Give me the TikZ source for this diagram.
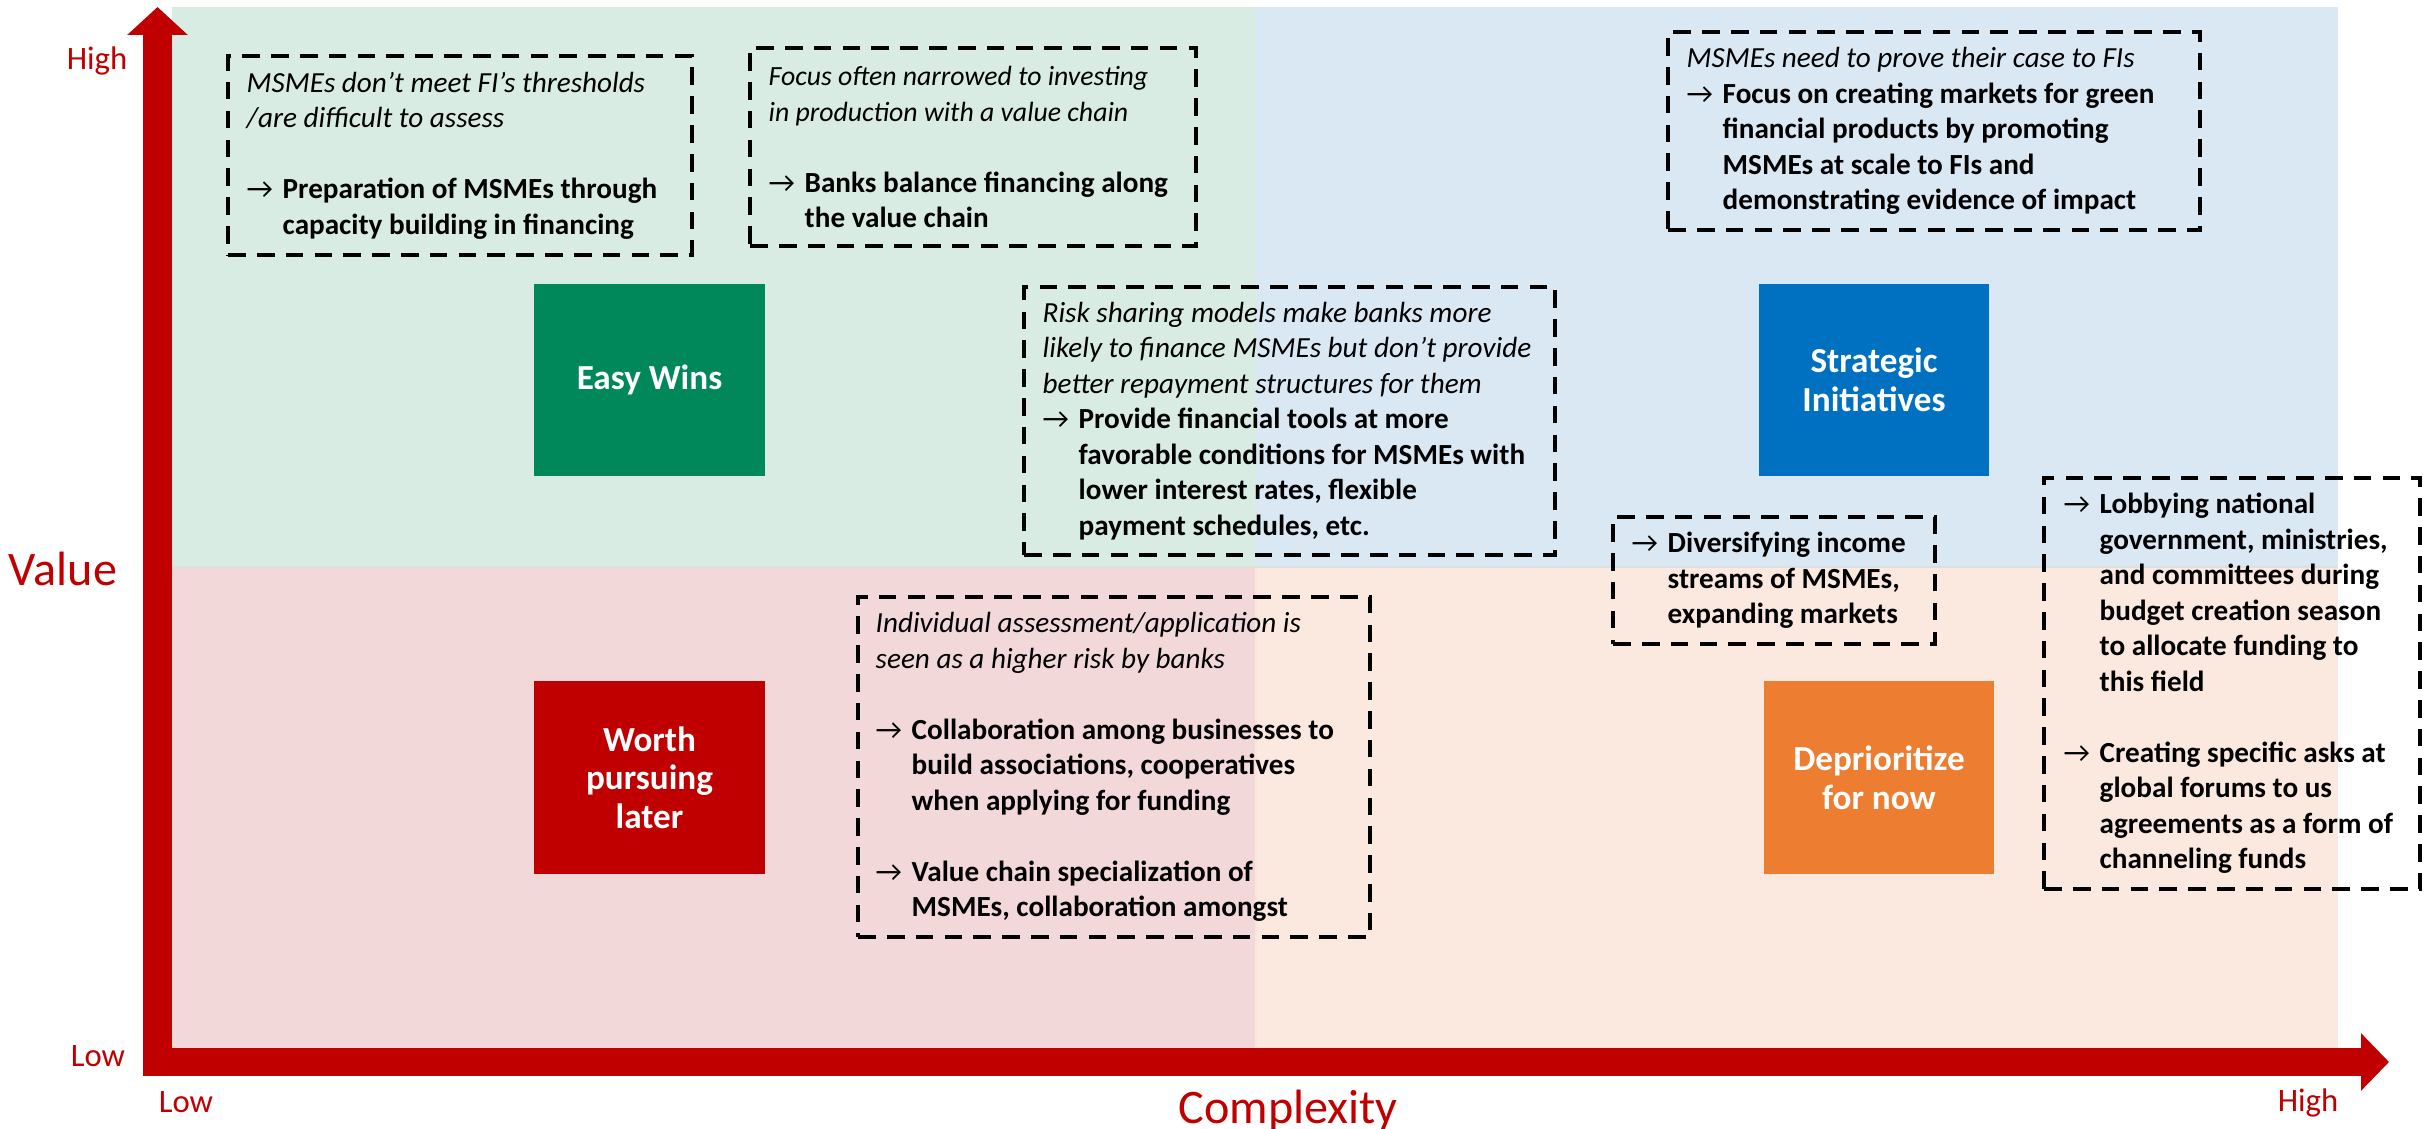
\documentclass[tikz,border=0pt]{standalone}
\usepackage{fontspec}
\setmainfont{Carlito}
\usepackage{xcolor}
\usepackage{tikz}
\usetikzlibrary{arrows.meta,positioning}
\definecolor{axisred}{RGB}{192,0,0}
\definecolor{easygr}{RGB}{0,135,90}
\definecolor{stratbl}{RGB}{0,112,192}
\definecolor{laterrd}{RGB}{192,0,0}
\definecolor{deprior}{RGB}{237,125,49}
\definecolor{quadtl}{RGB}{216,236,228}
\definecolor{quadtr}{RGB}{218,232,244}
\definecolor{quadbl}{RGB}{243,216,217}
\definecolor{quadbr}{RGB}{251,233,224}

% arrow bullet with hanging indent
\newcommand{\ptitem}[1]{\makebox[0.36cm][l]{→}\textbf{#1}}
\newcommand{\ptcont}[1]{\hspace*{0.36cm}\textbf{#1}}

\begin{document}
\begin{tikzpicture}[
    notebox/.style={draw=black, line width=1.2pt, dash pattern=on 5pt off 3.2pt,
      anchor=north west, inner sep=0pt},
    notetext/.style={align=left, inner sep=0pt,
      font=\fontsize{8.3}{10.1}\selectfont},
    quad/.style={minimum width=2.31cm, minimum height=1.92cm, inner sep=0pt,
      text=white, align=center, font=\fontsize{10}{11}\selectfont\bfseries},
    axislab/.style={text=axisred, font=\fontsize{9.3}{11}\selectfont}]

    \useasboundingbox (0,0) rectangle (24.33,11.28);

    %% quadrant backgrounds
    \fill[quadtl] (1.72,5.61) rectangle (12.56,11.21);
    \fill[quadtr] (12.56,5.61) rectangle (23.38,11.21);
    \fill[quadbl] (1.72,0.80) rectangle (12.56,5.61);
    \fill[quadbr] (12.56,0.80) rectangle (23.38,5.61);
    \draw[gray!25, thin] (1.72,5.61) -- (23.38,5.61);
    \draw[deprior!20, thin] (12.56,0.80) -- (12.56,5.61);

    %% axes
    \draw[axisred, line width=0.29cm, -{Triangle[length=0.28cm, width=0.59cm]}]
      (1.575,0.52) -- (1.575,11.21);
    \draw[axisred, line width=0.28cm, -{Triangle[length=0.28cm, width=0.56cm]}]
      (1.43,0.66) -- (23.89,0.66);

    \node[axislab] (yHigh) at (0.97,10.67) {High};
    \node[axislab] (yLow) at (0.98,0.72) {Low};
    \node[axislab, font=\fontsize{13.7}{16}\selectfont] (yLabel) at (0.63,5.59) {Value};
    \node[axislab] (xLow) at (1.86,0.26) {Low};
    \node[axislab, font=\fontsize{13.7}{16}\selectfont, anchor=base]
      (xLabel) at (12.88,0.05) {Complexity};
    \node[axislab] (xHigh) at (23.08,0.25) {High};

    %% quadrant tags
    \node[quad, fill=easygr] (qEasy) at (6.495,7.48) {Easy Wins};
    \node[quad, fill=stratbl, minimum width=2.30cm] (qStrat) at (18.74,7.48)
      {Strategic\\Initiatives};
    \node[quad, fill=laterrd, minimum height=1.93cm] (qLater) at (6.495,3.505)
      {Worth\\pursuing\\later};
    \node[quad, fill=deprior, minimum width=2.30cm, minimum height=1.93cm]
      (qDepr) at (18.79,3.505) {Deprioritize\\for now};

    %% notes, high value
    \node[notebox, minimum width=4.64cm, minimum height=1.99cm] (nThresh) at (2.26,10.74) {};
    \node[notetext, right=0.2cm of nThresh.west] (tThresh)
      {\textit{MSMEs don’t meet FI’s thresholds}\\
       \textit{/are difficult to assess}\\[10.1pt]
       \ptitem{Preparation of MSMEs through}\\
       \ptcont{capacity building in financing}};

    \node[notebox, minimum width=4.46cm, minimum height=1.98cm] (nFocus) at (7.48,10.82) {};
    \node[notetext, right=0.2cm of nFocus.west] (tFocus)
      {{\fontsize{7.9}{10.1}\selectfont\itshape Focus often narrowed to investing}\\
       {\fontsize{7.9}{10.1}\selectfont\itshape in production with a value chain}\\[10.1pt]
       \ptitem{Banks balance financing along}\\
       \ptcont{the value chain}};

    \node[notebox, minimum width=5.31cm, minimum height=2.68cm] (nRisk) at (10.22,8.43) {};
    \node[notetext, right=0.2cm of nRisk.west] (tRisk)
      {\textit{Risk sharing models make banks more}\\
       \textit{likely to finance MSMEs but don’t provide}\\
       \textit{better repayment structures for them}\\
       \ptitem{Provide financial tools at more}\\
       \ptcont{favorable conditions for MSMEs with}\\
       \ptcont{lower interest rates, flexible}\\
       \ptcont{payment schedules, etc.}};

    \node[notebox, minimum width=5.32cm, minimum height=1.98cm] (nProve) at (16.66,10.98) {};
    \node[notetext, right=0.2cm of nProve.west] (tProve)
      {\textit{MSMEs need to prove their case to FIs}\\
       \ptitem{Focus on creating markets for green}\\
       \ptcont{financial products by promoting}\\
       \ptcont{MSMEs at scale to FIs and}\\
       \ptcont{demonstrating evidence of impact}};

    \node[notebox, minimum width=3.22cm, minimum height=1.27cm] (nIncome) at (16.11,6.13) {};
    \node[notetext, right=0.2cm of nIncome.west] (tIncome)
      {\ptitem{Diversifying income}\\
       \ptcont{streams of MSMEs,}\\
       \ptcont{expanding markets}};

    \node[notebox, minimum width=3.76cm, minimum height=4.11cm] (nLobby) at (20.42,6.52) {};
    \node[notetext, right=0.21cm of nLobby.west] (tLobby)
      {\ptitem{Lobbying national}\\
       \ptcont{government, ministries,}\\
       \ptcont{and committees during}\\
       \ptcont{budget creation season}\\
       \ptcont{to allocate funding to}\\
       \ptcont{this field}\\[10.1pt]
       \ptitem{Creating specific asks at}\\
       \ptcont{global forums to us}\\
       \ptcont{agreements as a form of}\\
       \ptcont{channeling funds}};

    %% notes, low value
    \node[notebox, minimum width=5.12cm, minimum height=3.40cm] (nAssess) at (8.56,5.33) {};
    \node[notetext, right=0.19cm of nAssess.west] (tAssess)
      {\textit{Individual assessment/application is}\\
       \textit{seen as a higher risk by banks}\\[10.1pt]
       \ptitem{Collaboration among businesses to}\\
       \ptcont{build associations, cooperatives}\\
       \ptcont{when applying for funding}\\[10.1pt]
       \ptitem{Value chain specialization of}\\
       \ptcont{MSMEs, collaboration amongst}};

  \end{tikzpicture}
\end{document}
